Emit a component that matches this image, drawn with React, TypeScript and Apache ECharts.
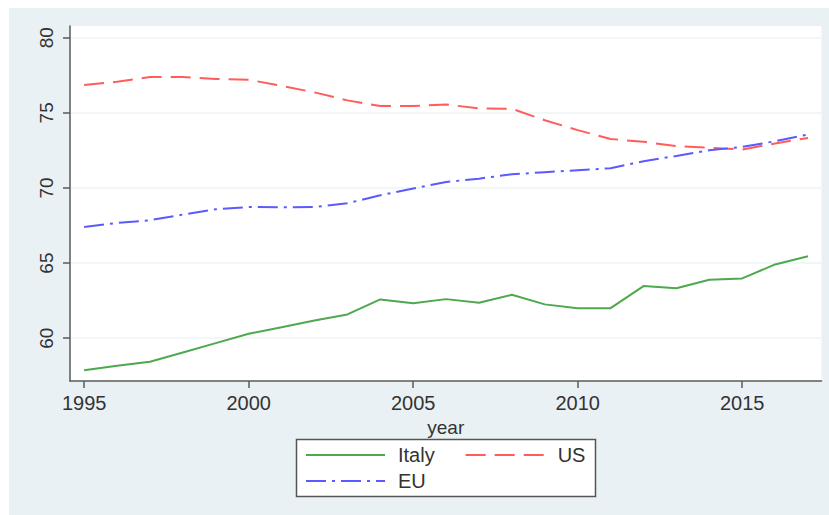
import React, { useEffect, useRef } from "react";
import * as echarts from "echarts";

const years = [1995, 1996, 1997, 1998, 1999, 2000, 2001, 2002, 2003, 2004, 2005, 2006, 2007, 2008, 2009, 2010, 2011, 2012, 2013, 2014, 2015, 2016, 2017];
const italy = [57.87, 58.16, 58.43, 59.05, 59.67, 60.29, 60.73, 61.18, 61.58, 62.58, 62.33, 62.6, 62.36, 62.89, 62.25, 62.0, 62.0, 63.47, 63.33, 63.89, 63.98, 64.91, 65.45];
const us = [76.85, 77.07, 77.38, 77.38, 77.25, 77.2, 76.8, 76.36, 75.83, 75.45, 75.45, 75.56, 75.29, 75.27, 74.51, 73.85, 73.26, 73.07, 72.78, 72.67, 72.56, 72.96, 73.33];
const eu = [67.4, 67.67, 67.85, 68.23, 68.58, 68.73, 68.71, 68.73, 68.98, 69.51, 69.96, 70.4, 70.62, 70.91, 71.05, 71.18, 71.31, 71.78, 72.13, 72.51, 72.73, 73.11, 73.56];
const xTicks = [1995, 2000, 2005, 2010, 2015];
const yTicks = [60, 65, 70, 75, 80];
const seriesNames = ["Italy", "US", "EU"];

const FONT = "Liberation Sans, Arial, sans-serif";

export default function App() {
  const ref = useRef<HTMLDivElement>(null);
  useEffect(() => {
    if (!ref.current) return;
    const chart = echarts.init(ref.current, undefined, { renderer: "svg" });
    const pair = (arr: number[]) => years.map((y, i) => [y, arr[i]]);
    const axisColor = "#5a5a5a";
    const legendCommon = {
      left: 296,
      padding: 0,
      itemWidth: 79,
      itemHeight: 20,
      itemStyle: { opacity: 0 },
      textStyle: { fontFamily: FONT, fontSize: 20, color: "#333", padding: [0, 0, 0, 8] },
      z: 5,
    };
    chart.setOption({
      animation: false,
      backgroundColor: "#eaf1f4",
      grid: {
        left: 61,
        top: 18,
        right: 7.5,
        bottom: 134,
        show: true,
        backgroundColor: "#ffffff",
        borderWidth: 0,
      },
      xAxis: {
        type: "value",
        min: 1994.57,
        max: 2017.41,
        name: "year",
        nameLocation: "middle",
        nameGap: 24,
        nameTextStyle: { fontFamily: FONT, fontSize: 19, color: "#333" },
        axisLine: { show: true, lineStyle: { color: axisColor, width: 1.5 } },
        axisTick: { show: true, length: 7, customValues: xTicks, lineStyle: { color: axisColor, width: 1.5 } },
        axisLabel: {
          customValues: xTicks,
          margin: 12,
          fontFamily: FONT,
          fontSize: 20,
          color: "#333",
          formatter: (v: number) => String(v),
        },
        splitLine: { show: false },
      },
      yAxis: {
        type: "value",
        min: 57.15,
        max: 80.78,
        axisLine: { show: true, lineStyle: { color: axisColor, width: 1.5 } },
        axisTick: { show: true, length: 7, customValues: yTicks, lineStyle: { color: axisColor, width: 1.5 } },
        axisLabel: {
          customValues: yTicks,
          rotate: 90,
          margin: 14,
          fontFamily: FONT,
          fontSize: 19,
          color: "#333",
          formatter: (v: number) => String(v),
        },
        splitLine: { show: true, lineStyle: { color: "#edf3f4", width: 1.5 } },
      },
      legend: [
        { ...legendCommon, data: ["Italy", "US"], top: 437, itemGap: 30 },
        { ...legendCommon, data: ["EU"], top: 463 },
      ],
      graphic: [
        {
          type: "rect",
          shape: { x: 287.5, y: 431.5, width: 299, height: 57 },
          style: { fill: "#ffffff", stroke: "#555555", lineWidth: 1.5 },
          z: 1,
        },
      ],
      series: [
        {
          name: seriesNames[0],
          type: "line",
          data: pair(italy),
          showSymbol: false,
          symbol: "none",
          lineStyle: { color: "#4ea84e", width: 2 },
          itemStyle: { color: "#4ea84e" },
        },
        {
          name: seriesNames[1],
          type: "line",
          data: pair(us),
          showSymbol: false,
          symbol: "none",
          lineStyle: { color: "#ff5c5c", width: 2, type: [20, 9] },
          itemStyle: { color: "#ff5c5c" },
        },
        {
          name: seriesNames[2],
          type: "line",
          data: pair(eu),
          showSymbol: false,
          symbol: "none",
          lineStyle: { color: "#5a5aff", width: 2, type: [20, 6, 3, 6] },
          itemStyle: { color: "#5a5aff" },
        },
      ],
    });
    return () => chart.dispose();
  }, []);
  return (
    <div
      ref={ref}
      style={{ position: "absolute", left: 9, top: 8, width: 820, height: 507 }}
    />
  );
}
